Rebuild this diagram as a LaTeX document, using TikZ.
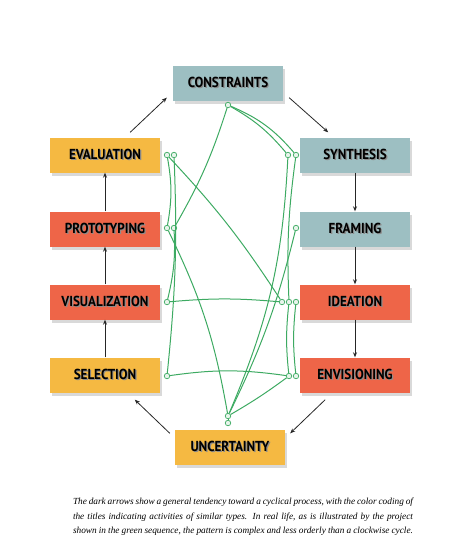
\documentclass[tikz,border=0pt]{standalone}
\usepackage{fontspec}
\newfontfamily\boxfont[FakeStretch=0.9]{PT Sans}
\newfontfamily\capfont{Liberation Serif}
\usetikzlibrary{shadows,arrows.meta,positioning}

\definecolor{stageblue}{HTML}{9DBFC2}
\definecolor{stageyellow}{HTML}{F5B942}
\definecolor{stagered}{HTML}{EE6548}
\definecolor{pathgreen}{HTML}{3DAA62}

\newcommand{\shtxt}[1]{\makebox[0pt][l]{\hspace{1.2pt}\raisebox{-1.2pt}{\textcolor{black!45}{#1}}}#1}

\tikzset{
  stage/.style={minimum width=110pt, minimum height=35pt, inner sep=0pt,
    font=\boxfont\bfseries\fontsize{14.5}{16}\selectfont,
    drop shadow={shadow xshift=2pt, shadow yshift=-3pt, opacity=.3}},
  bluestage/.style={stage, fill=stageblue},
  yellowstage/.style={stage, fill=stageyellow},
  redstage/.style={stage, fill=stagered},
  arr/.style={-{Stealth[length=5pt,width=4pt]}, line width=0.8pt, black!85},
  gdot/.style={circle, draw=pathgreen, fill=pathgreen!12, line width=0.7pt, inner sep=0pt, minimum size=5.5pt},
  gline/.style={pathgreen, line width=1pt}
}

\begin{document}
\begin{tikzpicture}[x=1pt, y=-1pt]
\useasboundingbox (0,0) rectangle (474,558);

%stages
\node [bluestage] (constr) at (228,83) {\shtxt{CONSTRAINTS}};
\node [yellowstage] (eval) at (105,155) {\shtxt{EVALUATION}};
\node [bluestage] (synth) at (355,155) {\shtxt{SYNTHESIS}};
\node [redstage] (proto) at (105,229) {\shtxt{PROTOTYPING}};
\node [bluestage] (fram) at (355,229) {\shtxt{FRAMING}};
\node [redstage] (visual) at (105,302) {\shtxt{VISUALIZATION}};
\node [redstage] (idea) at (355,302) {\shtxt{IDEATION}};
\node [yellowstage] (select) at (105,375) {\shtxt{SELECTION}};
\node [redstage] (envis) at (355,375) {\shtxt{ENVISIONING}};
\node [yellowstage] (uncert) at (230,447) {\shtxt{UNCERTAINTY}};

%cycle arrows
\draw [arr] ([xshift=-30pt,yshift=5pt]eval.north east) -- ([xshift=-6pt,yshift=3pt]constr.south west);
\draw [arr] ([xshift=6pt,yshift=3pt]constr.south east) -- ([xshift=-82pt,yshift=5pt]synth.north east);
\draw [arr] (synth.south) -- (fram.north);
\draw [arr] (fram.south) -- (idea.north);
\draw [arr] (idea.south) -- (envis.north);
\draw [arr] ([xshift=-85pt,yshift=-7pt]envis.south east) -- ([xshift=5pt,yshift=-4pt]uncert.north east);
\draw [arr] ([xshift=-5pt,yshift=-4pt]uncert.north west) -- ([xshift=85pt,yshift=-7pt]select.south west);
\draw [arr] (select.north) -- (visual.south);
\draw [arr] (visual.north) -- (proto.south);
\draw [arr] (proto.north) -- (eval.south);

%green sequence
\node [gdot] (gC) at (228,105) {};
\node [gdot] (gS1) at (288,155) {};
\node [gdot] (gS2) at (296,155) {};
\node [gdot] (gE1) at (167,155) {};
\node [gdot] (gE2) at (174,155) {};
\node [gdot] (gP1) at (167,228) {};
\node [gdot] (gP2) at (174,228) {};
\node [gdot] (gF) at (296,228) {};
\node [gdot] (gV) at (167,302) {};
\node [gdot] (gI1) at (282,302) {};
\node [gdot] (gI2) at (289,302) {};
\node [gdot] (gI3) at (296,302) {};
\node [gdot] (gSel) at (167,376) {};
\node [gdot] (gN1) at (289,376) {};
\node [gdot] (gN2) at (296,376) {};
\node [gdot] (gU1) at (228,416) {};
\node [gdot] (gU2) at (228,423) {};

\draw [gline] (gC) to[bend left=10] (gS1);
\draw [gline] (gC) to[bend left=13] (gS2);
\draw [gline] (gC) to[bend left=6] (gP2);
\draw [gline] (gE1) to[bend left=5] (gI1);
\draw [gline] (gE1) to[bend left=10] (gP1);
\draw [gline] (gE2) to[bend left=4] (gSel);
\draw [gline] (gP2) to[bend left=8] (gV);
\draw [gline] (gP1) to[bend left=8] (gU1);
\draw [gline] (gV) to[bend left=5] (gI1);
\draw [gline] (gSel) to[bend left=8] (gN1);
\draw [gline] (gN1) to[bend left=3] (gU1);
\draw [gline] (gS1) to[bend left=10] (gU1);
\draw [gline] (gF) to[bend left=6] (gU1);
\draw [gline] (gS2) to[bend right=5] (gI2);
\draw [gline] (gI2) to[bend right=6] (gN1);
\draw [gline] (gI3) to[bend right=6] (gN2);
\draw [gline] (gU1) -- (gU2);

%caption
\node [text width=340pt, align=justify, font=\capfont\itshape\fontsize{9.3}{14.5}\selectfont] (caption) at (243,517)
  {The dark arrows show a general tendency toward a cyclical process, with the color coding of\linebreak
   the titles indicating activities of similar types. In real life, as is illustrated by the project\linebreak
   shown in the green sequence, the pattern is complex and less orderly than a clockwise cycle.\par};

\end{tikzpicture}
\end{document}
